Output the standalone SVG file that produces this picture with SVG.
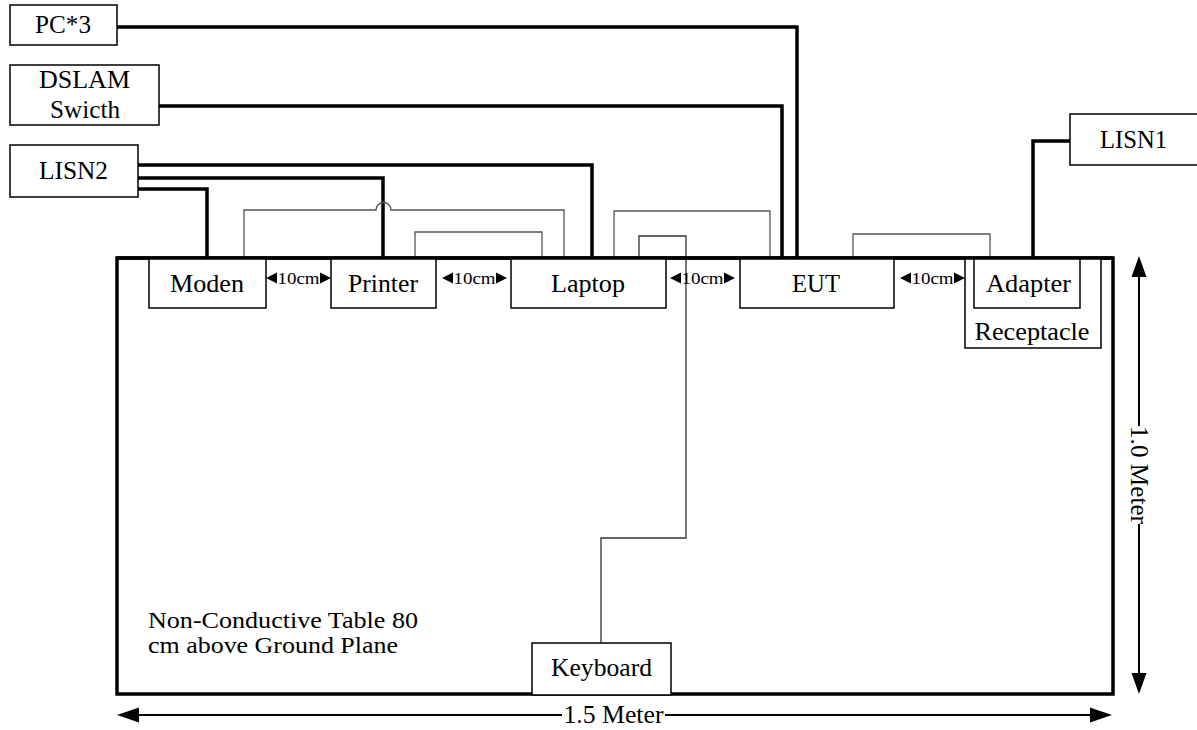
<svg xmlns="http://www.w3.org/2000/svg" width="1197" height="730" viewBox="0 0 1197 730">
<style>
text{font-family:"Liberation Serif","Times New Roman",serif;fill:#000}
.lbl{font-size:25px;text-anchor:middle}
.small{font-size:16px;text-anchor:middle}
.box{fill:#fff;stroke:#000;stroke-width:1.5}
.thick{fill:none;stroke:#000;stroke-width:3.5;stroke-linejoin:miter}
.thin{fill:none;stroke:#555;stroke-width:1.3}
.dim{fill:none;stroke:#000;stroke-width:2}
.tri{fill:#000}
</style>
<rect width="1197" height="730" fill="#fff"/>
<g id="connectors">
<path class="thick" d="M117,27 H797 V258"/>
<path class="thick" d="M159,106 H782 V258"/>
<path class="thick" d="M138,165 H592 V258"/>
<path class="thick" d="M138,178 H383 V258"/>
<path class="thick" d="M138,189 H207 V258"/>
<path class="thick" d="M1070,141 H1033 V258"/>
<path class="thin" d="M244,258 V210 H376 A7.5,7.5 0 0 1 391,210 H564 V258"/>
<path class="thin" d="M415,258 V232 H542 V258"/>
<path class="thin" d="M614,258 V211 H770 V258"/>
<path class="thin" d="M853,258 V234 H990 V258"/>
<path class="thin" style="stroke:#333" d="M639,258 V236 H686 V538 H601 V643"/>
</g>
<g id="table">
<rect x="117" y="258" width="996" height="436" fill="none" stroke="#000" stroke-width="3.5"/>
<text x="148" y="628" font-size="24" textLength="270" lengthAdjust="spacingAndGlyphs">Non-Conductive Table 80</text>
<text x="148" y="653" font-size="24" textLength="250" lengthAdjust="spacingAndGlyphs">cm above Ground Plane</text>
</g>
<g id="pc3"><rect class="box" x="10" y="5" width="107" height="40"/><text class="lbl" x="63" y="33" textLength="56" lengthAdjust="spacingAndGlyphs">PC*3</text></g>
<g id="dslam"><rect class="box" x="10" y="65" width="149" height="60"/><text class="lbl" x="84.5" y="88" textLength="91" lengthAdjust="spacingAndGlyphs">DSLAM</text><text class="lbl" x="85" y="118" textLength="70" lengthAdjust="spacingAndGlyphs">Swicth</text></g>
<g id="lisn2"><rect class="box" x="10" y="145" width="128" height="52"/><text class="lbl" x="73.5" y="179" textLength="69" lengthAdjust="spacingAndGlyphs">LISN2</text></g>
<g id="lisn1"><rect class="box" x="1070" y="114" width="130" height="51"/><text class="lbl" x="1133.5" y="148" textLength="67" lengthAdjust="spacingAndGlyphs">LISN1</text></g>
<g id="moden"><rect class="box" x="149" y="258" width="117" height="50"/><text class="lbl" x="207" y="292" textLength="74" lengthAdjust="spacingAndGlyphs">Moden</text></g>
<g id="printer"><rect class="box" x="331" y="258" width="105" height="50"/><text class="lbl" x="383" y="292" textLength="70" lengthAdjust="spacingAndGlyphs">Printer</text></g>
<g id="laptop"><rect class="box" x="511" y="258" width="155" height="50"/><text class="lbl" x="588" y="292" textLength="74" lengthAdjust="spacingAndGlyphs">Laptop</text></g>
<g id="eut"><rect class="box" x="740" y="258" width="154" height="50"/><text class="lbl" x="816" y="292" textLength="48" lengthAdjust="spacingAndGlyphs">EUT</text></g>
<g id="receptacle"><rect class="box" x="965" y="258" width="136" height="90"/><text class="lbl" x="1032" y="340" textLength="115" lengthAdjust="spacingAndGlyphs">Receptacle</text></g>
<g id="adapter"><rect class="box" x="974" y="258" width="106" height="50"/><text class="lbl" x="1028.5" y="292" textLength="85" lengthAdjust="spacingAndGlyphs">Adapter</text></g>
<g id="keyboard"><rect class="box" x="532" y="643" width="139" height="52"/><text class="lbl" x="601.5" y="676" textLength="101" lengthAdjust="spacingAndGlyphs">Keyboard</text></g>
<g id="table-top"><line x1="117" y1="258" x2="1113" y2="258" stroke="#000" stroke-width="3.5"/></g>
<g id="spacing">
<path class="tri" d="M266,278 L277,272.5 L277,283.5 Z M331,278 L320,272.5 L320,283.5 Z"/>
<text class="small" x="298.5" y="284" textLength="42" lengthAdjust="spacingAndGlyphs">10cm</text>
<path class="tri" d="M442,278 L453,272.5 L453,283.5 Z M507,278 L496,272.5 L496,283.5 Z"/>
<text class="small" x="474.5" y="284" textLength="42" lengthAdjust="spacingAndGlyphs">10cm</text>
<path class="tri" d="M670,278 L681,272.5 L681,283.5 Z M735,278 L724,272.5 L724,283.5 Z"/>
<text class="small" x="702.5" y="284" textLength="42" lengthAdjust="spacingAndGlyphs">10cm</text>
<path class="tri" d="M900,278 L911,272.5 L911,283.5 Z M965,278 L954,272.5 L954,283.5 Z"/>
<text class="small" x="932.5" y="284" textLength="42" lengthAdjust="spacingAndGlyphs">10cm</text>
</g>
<g id="dimensions">
<path class="dim" d="M1139,274 V426 M1139,524 V676"/>
<path class="tri" d="M1139,256 L1131.5,277 L1146.5,277 Z M1139,694 L1131.5,673 L1146.5,673 Z"/>
<text class="lbl" transform="translate(1139,475) rotate(90)" x="0" y="8" textLength="98" lengthAdjust="spacingAndGlyphs">1.0 Meter</text>
<path class="dim" d="M135,715 H562 M665,715 H1094"/>
<path class="tri" d="M117,715 L139,707.5 L139,722.5 Z M1112,715 L1090,707.5 L1090,722.5 Z"/>
<text class="lbl" x="613.5" y="723" textLength="100" lengthAdjust="spacingAndGlyphs">1.5 Meter</text>
</g>
</svg>
